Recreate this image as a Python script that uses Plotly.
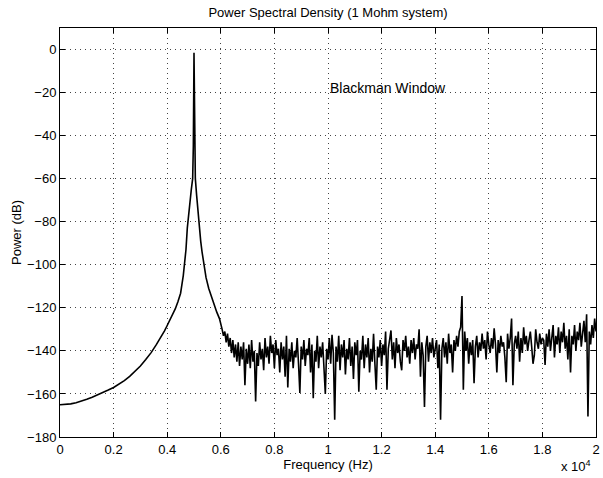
import plotly.graph_objects as go

# Smooth part of the spectrum (frequency Hz, power dB)
smooth_freq = [0, 200, 400, 600, 800, 1000, 1200, 1400, 1600, 1800, 2000, 2200,
               2400, 2600, 2800, 3000, 3200, 3400, 3600, 3800, 3900, 4000, 4100,
               4200, 4300, 4400, 4500, 4600, 4650, 4700, 4750, 4800, 4850, 4900,
               4950, 4975, 5000, 5025, 5050, 5100, 5150, 5200, 5250, 5300, 5370,
               5450, 5550, 5650, 5750, 5850, 5950, 6000]
smooth_db = [-165, -164.9, -164.6, -164.1, -163.4, -162.5, -161.5, -160.5, -159.4,
             -158.2, -157, -155.5, -153.8, -151.8, -149.5, -147, -144, -140.8, -137,
             -133, -130.7, -128.2, -125.8, -123.2, -120.5, -117.2, -113.2, -105,
             -100, -93, -83, -76, -70, -65, -60, -45, -1.5, -45, -60, -68, -76, -82,
             -89, -94, -100, -106, -111, -115, -118.5, -122, -125, -127]

# Noise floor, one value every 50 Hz from 6050 Hz to 20000 Hz
noise_start = 6050
noise_step = 50
noise_db = [
    # 6050-7000
    -130, -133, -131, -136, -132, -138, -134, -141, -135, -143,
    -137, -145, -136, -147, -138, -144, -136, -156, -139, -146,
    # 7050-8000
    -137, -148, -135, -145, -140, -163.5, -141, -147, -136, -144,
    -139, -149, -134, -143, -138, -146, -133, -141, -137, -148,
    # 8050-9000
    -135, -142, -139, -150, -136, -144, -138, -152, -133, -157,
    -139, -145, -136, -148, -140, -143, -134, -146, -159.5, -138,
    # 9050-10000
    -144, -135, -147, -139, -142, -134, -150, -137, -162, -140,
    -145, -133, -148, -138, -143, -136, -152, -160, -139, -144,
    # 10050-11000
    -134, -146, -132.5, -141, -172, -138, -145, -133, -149, -137,
    -143, -135, -151, -139, -144, -134, -147, -138, -153, -136,
    # 11050-12000
    -142, -135, -159, -140, -144, -133, -148, -137, -143, -134,
    -150, -139, -145, -132, -146, -158, -138, -143, -135, -147,
    # 12050-13000
    -137, -142, -131, -158, -139, -135, -130.5, -144, -136, -148,
    -134, -141, -137, -145, -149, -135, -140, -133, -143, -138,
    # 13050-14000
    -146, -135, -141, -134, -144, -137, -139, -130, -152, -136,
    -142, -166, -138, -133, -145, -136, -141, -134, -143, -139,
    # 14050-15000
    -135, -148, -137, -172, -139, -134, -143, -136, -146, -132,
    -141, -137, -150, -135, -140, -133, -138, -131, -129, -114.5,
    # 15050-16000
    -158, -131, -140, -134, -146, -136, -142, -135, -155, -138,
    -133, -143, -136, -140, -132, -139, -135, -144, -131, -137,
    # 16050-17000
    -141, -134, -139, -129.5, -137, -150, -135, -141, -133, -138,
    -136, -143, -154.5, -132, -139, -134, -125, -156, -137, -133,
    # 17050-18000
    -139, -131, -145, -134, -141, -129, -137, -133, -140, -135,
    -131, -138, -146, -142, -130, -136, -139, -132, -137, -134,
    # 18050-19000
    -135, -146.5, -132, -138, -130, -140, -134, -128, -143, -133,
    -137, -129, -141, -131, -136, -127, -139, -133, -144, -130,
    # 19050-20000
    -150, -133, -137, -128, -140, -131, -135, -127, -138, -132,
    -126, -136, -123, -170.5, -131, -137, -128, -134, -125, -131,
]

x_tick_vals = [0, 2000, 4000, 6000, 8000, 10000, 12000, 14000, 16000, 18000, 20000]
x_tick_text = ["0", "0.2", "0.4", "0.6", "0.8", "1", "1.2", "1.4", "1.6", "1.8", "2"]
y_tick_vals = [-180, -160, -140, -120, -100, -80, -60, -40, -20, 0]

noise_freq = [noise_start + noise_step * i for i in range(len(noise_db))]
freq = smooth_freq + noise_freq
power = smooth_db + noise_db

FONT = "Liberation Sans, Arial, Helvetica, sans-serif"

fig = go.Figure()
fig.add_trace(go.Scatter(x=freq, y=power, mode="lines",
                         line=dict(color="black", width=1.6),
                         showlegend=False, hoverinfo="skip"))

axis_common = dict(
    showline=True, linecolor="black", linewidth=1, mirror="ticks",
    ticks="inside", ticklen=5, tickcolor="black", tickwidth=1,
    showgrid=True, gridcolor="#444444", griddash="1px,4px", gridwidth=1,
    zeroline=False, tickfont=dict(family=FONT, size=13, color="black"),
    ticklabeloverflow="allow",
)

fig.update_layout(
    width=603, height=478,
    margin=dict(l=60, r=3, t=28, b=41),
    paper_bgcolor="white", plot_bgcolor="white",
    font=dict(family=FONT, size=13, color="black"),
    title=dict(text="Power Spectral Density (1 Mohm system)", x=0.5, xanchor="center",
               y=1 - 12 / 478, yanchor="middle", xref="paper",
               font=dict(family=FONT, size=13, color="black")),
    xaxis=dict(range=[0, 20000], tickvals=x_tick_vals, ticktext=x_tick_text,
               title=dict(text="Frequency (Hz)", standoff=2,
                          font=dict(family=FONT, size=13)),
               **axis_common),
    yaxis=dict(range=[-180, 10], tickvals=y_tick_vals,
               title=dict(text="Power (dB)", standoff=2,
                          font=dict(family=FONT, size=13)),
               **axis_common),
    annotations=[
        dict(text="Blackman Window", x=12222, y=-18, xref="x", yref="y",
             showarrow=False, font=dict(family=FONT, size=14, color="black")),
        dict(text="x 10<sup>4</sup>", x=0.995, y=-0.07, xref="paper", yref="paper",
             xanchor="right", yanchor="middle", showarrow=False,
             font=dict(family=FONT, size=13, color="black")),
    ],
)

fig.write_html("out.html")
